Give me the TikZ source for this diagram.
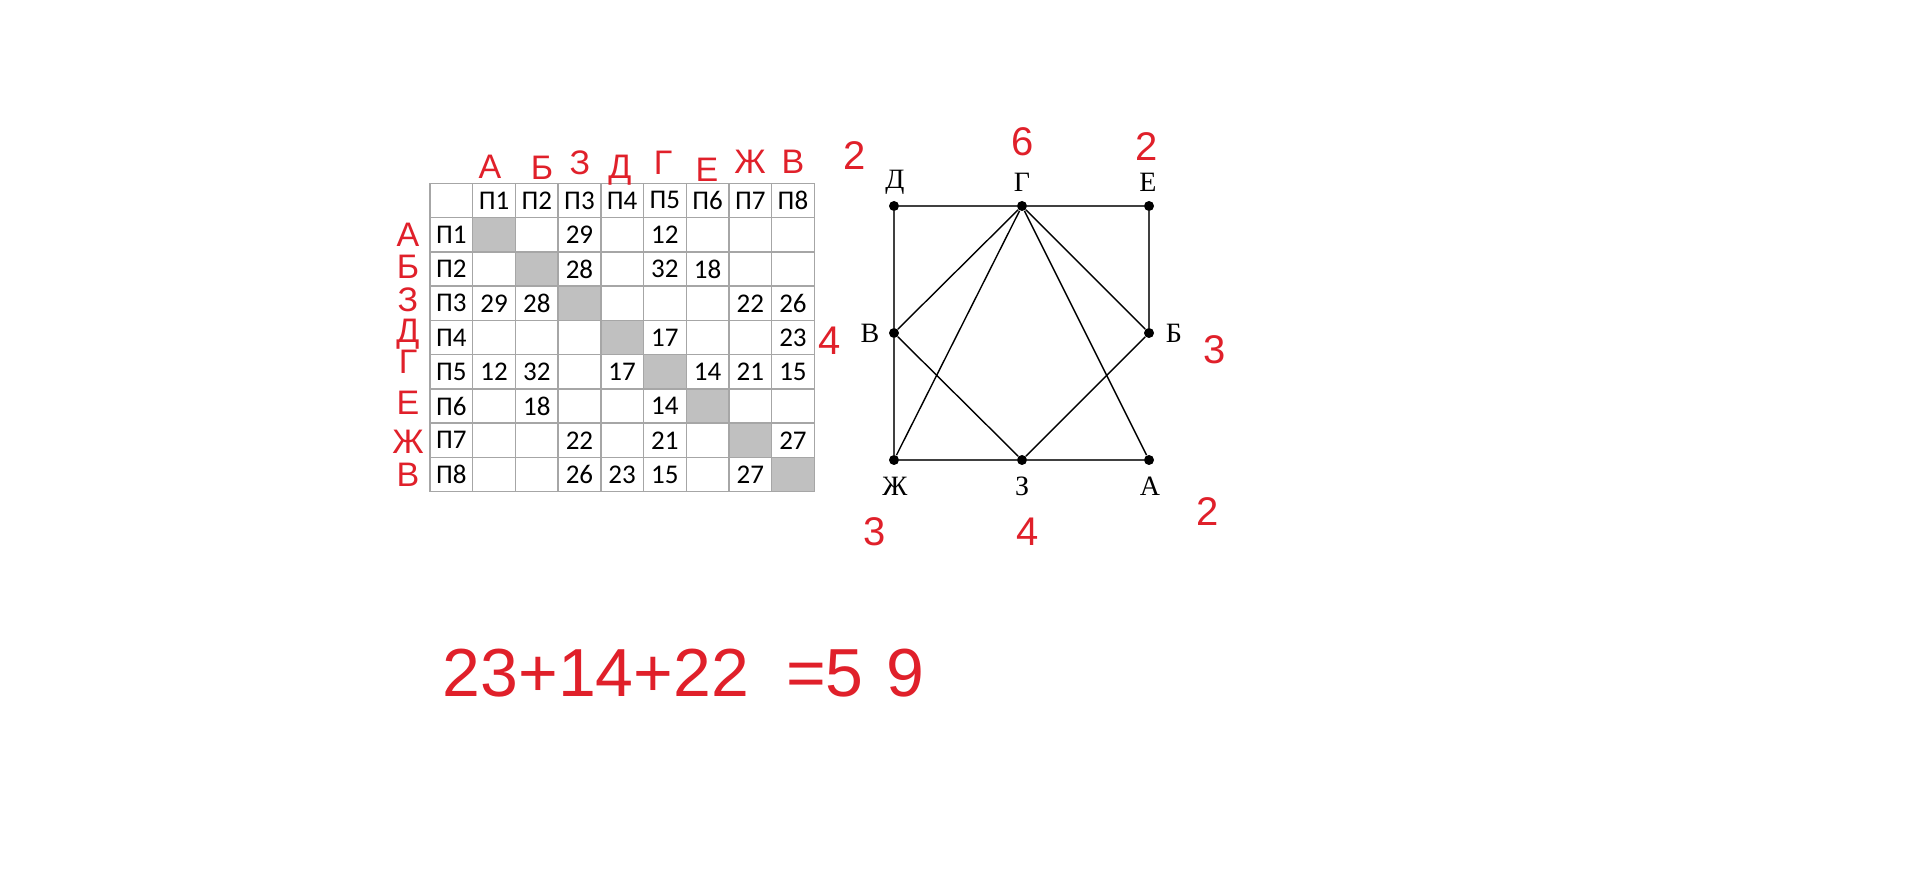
\documentclass[tikz,border=0pt]{standalone}
\usepackage{fontspec}
\setmainfont{Liberation Serif}
\newfontfamily\tabfont{Carlito}
\newfontfamily\handfont{Liberation Sans}
\definecolor{ink}{HTML}{E0202A}
\definecolor{cellgrey}{HTML}{C0C0C0}
\definecolor{tabline}{HTML}{A6A6A6}

\begin{document}
\begin{tikzpicture}[x=0.5pt,y=-0.5pt,every node/.style={inner sep=0pt},
  cell/.style={font=\tabfont\fontsize{13.5}{13.5}\selectfont},
  vert/.style={circle,fill=black,minimum size=5pt},
  vname/.style={font=\fontsize{14}{14}\selectfont},
  hand/.style={text=ink,font=\handfont\fontsize{17}{17}\selectfont},
  handnum/.style={text=ink,font=\handfont\fontsize{20}{20}\selectfont}]
\useasboundingbox[fill=white] (0,0) rectangle (1914,870);
% table
\foreach \i in {1,...,8}
  \fill[cellgrey] ({430+42.7*\i},{183.3+34.27*\i}) rectangle ++(42.7,34.27);
\foreach \i in {0,...,9} {
  \draw[tabline,line width=0.7pt] ({430+42.7*\i},183.3) -- ({430+42.7*\i},491.7);
  \draw[tabline,line width=0.7pt] (430,{183.3+34.27*\i}) -- (814.3,{183.3+34.27*\i});
}
\foreach \i in {1,...,8} {
  \node[cell] (h\i) at ({430+42.7*(\i+0.5)},{183.3+34.27*0.5}) {П\i};
  \node[cell] (r\i) at ({430+42.7*0.5},{183.3+34.27*(\i+0.5)}) {П\i};
}
\foreach \r/\c/\v in {1/3/29,1/5/12,2/3/28,2/5/32,2/6/18,
3/1/29,3/2/28,3/7/22,3/8/26,4/5/17,4/8/23,
5/1/12,5/2/32,5/4/17,5/6/14,5/7/21,5/8/15,6/2/18,6/5/14,
7/3/22,7/5/21,7/8/27,8/3/26,8/4/23,8/5/15,8/7/27}
  \node[cell] (c\r\c) at ({430+42.7*(\c+0.5)},{183.3+34.27*(\r+0.5)}) {\v};
%-------------
% graph
\node[vert] (vD) at (894,206) {};
\node[vert] (vG) at (1022,206) {};
\node[vert] (vE) at (1149,206) {};
\node[vert] (vV) at (894,333) {};
\node[vert] (vB) at (1149,333) {};
\node[vert] (vZh) at (894,460) {};
\node[vert] (vZ) at (1022,460) {};
\node[vert] (vA) at (1149,460) {};
\foreach \from/\to in {vD/vG,vG/vE,vD/vV,vV/vZh,vE/vB,vZh/vZ,vZ/vA}
  \draw[line width=0.9pt,black!75] (\from) -- (\to);
\foreach \from/\to in {vG/vV,vG/vZh,vG/vA,vG/vB,vV/vZ,vB/vZ}
  \draw[line width=0.7pt] (\from) -- (\to);
\node[vname] (lD) at (895,182) {Д};
\node[vname] (lG) at (1022,182) {Г};
\node[vname] (lE) at (1148,182) {Е};
\node[vname] (lV) at (870,333) {В};
\node[vname] (lB) at (1174,333) {Б};
\node[vname] (lZh) at (895,486) {Ж};
\node[vname] (lZ) at (1022,486) {З};
\node[vname] (lA) at (1150,486) {А};
%-------------
% red notes
\foreach \t/\x/\y [count=\k] in {А/490/167,Б/542/168,З/580/163,Д/620/170,Г/663/163,Е/707/170,Ж/750/162,В/793/162}
  \node[hand] (top\k) at (\x,\y) {\t};
\foreach \t/\y [count=\k] in {А/235,Б/267,З/300,Д/334,Г/362,Е/403,Ж/442,В/475}
  \node[hand] (left\k) at (408,\y) {\t};
\node[handnum] (dD) at (855,156) {2};
\node[handnum] (dV) at (830,341) {4};
\node[handnum] (dG) at (1023,142) {6};
\node[handnum] (dE) at (1147,147) {2};
\node[handnum] (dB) at (1215,350) {3};
\node[handnum] (dZh) at (875,532) {3};
\node[handnum] (dZ) at (1028,532) {4};
\node[handnum] (dA) at (1208,512) {2};
\node[text=ink,font=\handfont\fontsize{34}{34}\selectfont] (eqleft) at (596,673) {23+14+22};
\node[text=ink,font=\handfont\fontsize{34}{34}\selectfont] (eqright) at (855,673) {=5\,\,9};
\end{tikzpicture}
\end{document}
